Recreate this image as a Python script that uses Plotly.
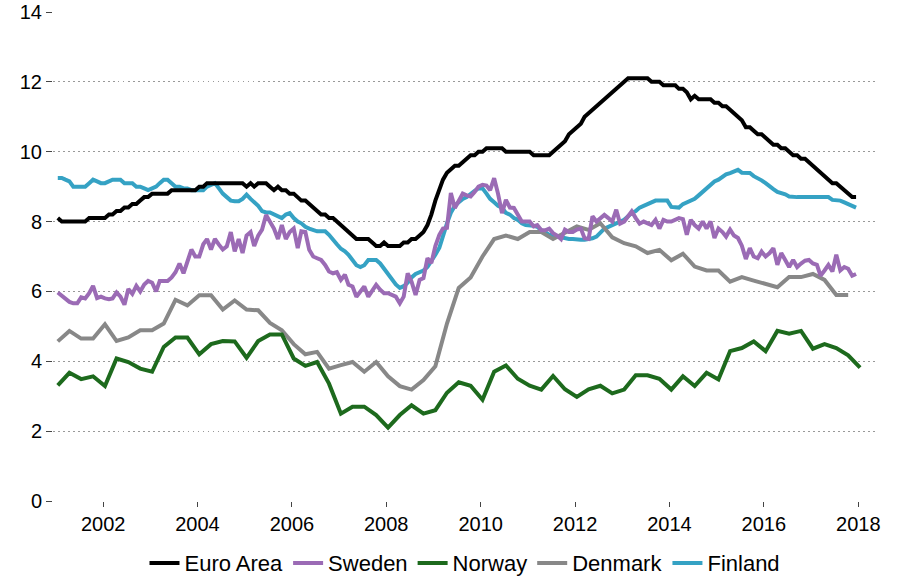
import pandas as pd
import plotly.graph_objects as go

# ---------------- data ----------------
months = pd.date_range("2001-01-01", periods=204, freq="MS") + pd.Timedelta(days=14)
quarters = pd.date_range("2001-01-01", periods=69, freq="QS") + pd.Timedelta(days=14)

euro_area = [
    8.1, 8.0, 8.0, 8.0, 8.0, 8.0, 8.0, 8.0, 8.1, 8.1, 8.1, 8.1,
    8.1, 8.2, 8.2, 8.3, 8.3, 8.4, 8.4, 8.5, 8.5, 8.6, 8.7, 8.7,
    8.8, 8.8, 8.8, 8.8, 8.8, 8.9, 8.9, 8.9, 8.9, 8.9, 8.9, 8.9,
    9.0, 9.0, 9.1, 9.1, 9.1, 9.1, 9.1, 9.1, 9.1, 9.1, 9.1, 9.1,
    9.0, 9.1, 9.0, 9.1, 9.1, 9.1, 9.0, 8.9, 9.0, 8.9, 8.9, 8.8,
    8.8, 8.7, 8.6, 8.6, 8.5, 8.4, 8.3, 8.2, 8.2, 8.1, 8.1, 8.0,
    7.9, 7.8, 7.7, 7.6, 7.5, 7.5, 7.5, 7.5, 7.4, 7.3, 7.3, 7.4,
    7.3, 7.3, 7.3, 7.3, 7.4, 7.4, 7.5, 7.5, 7.6, 7.7, 7.9, 8.2,
    8.6, 8.9, 9.2, 9.4, 9.5, 9.6, 9.6, 9.7, 9.8, 9.9, 9.9, 10.0,
    10.0, 10.1, 10.1, 10.1, 10.1, 10.1, 10.0, 10.0, 10.0, 10.0, 10.0, 10.0,
    10.0, 9.9, 9.9, 9.9, 9.9, 9.9, 10.0, 10.1, 10.2, 10.3, 10.5, 10.6,
    10.7, 10.8, 11.0, 11.1, 11.2, 11.3, 11.4, 11.5, 11.6, 11.7, 11.8, 11.9,
    12.0, 12.1, 12.1, 12.1, 12.1, 12.1, 12.1, 12.0, 12.0, 12.0, 11.9, 11.9,
    11.9, 11.9, 11.8, 11.8, 11.7, 11.5, 11.6, 11.5, 11.5, 11.5, 11.5, 11.4,
    11.4, 11.3, 11.3, 11.2, 11.1, 11.0, 10.9, 10.7, 10.7, 10.6, 10.5, 10.5,
    10.4, 10.3, 10.2, 10.2, 10.1, 10.1, 10.0, 9.9, 9.9, 9.8, 9.8, 9.7,
    9.6, 9.5, 9.4, 9.3, 9.2, 9.1, 9.1, 9.0, 8.9, 8.8, 8.7, 8.7,
]

sweden = [
    5.97, 5.88, 5.78, 5.7, 5.66, 5.66, 5.83, 5.8, 5.95, 6.16, 5.81, 5.85,
    5.8, 5.78, 5.8, 5.97, 5.85, 5.62, 6.07, 5.93, 6.16, 6.0, 6.2, 6.3,
    6.25, 6.0, 6.3, 6.3, 6.3, 6.4, 6.55, 6.8, 6.52, 6.85, 7.2, 7.0,
    7.0, 7.35, 7.5, 7.2, 7.5, 7.34, 7.2, 7.29, 7.7, 7.15, 7.5, 7.1,
    7.6, 7.7, 7.3, 7.6, 7.77, 8.19, 8.0, 7.8, 7.5, 7.9, 7.5, 7.7,
    7.8, 7.24, 7.72, 7.7, 7.19, 7.0, 6.95, 6.9, 6.76, 6.57, 6.52, 6.55,
    6.33, 6.48, 6.19, 6.14, 5.85, 6.0, 6.14, 5.85, 6.05, 6.19, 6.05, 5.95,
    5.95, 5.9, 5.85, 5.66, 5.85, 6.52, 6.28, 5.9, 6.33, 6.38, 6.95, 6.81,
    7.3, 7.62, 7.8, 7.82, 8.82, 8.39, 8.62, 8.8, 8.75, 8.72, 8.85, 9.0,
    9.05, 9.03, 8.9, 9.24, 8.8, 8.24, 8.62, 8.4, 8.39, 8.19, 8.0, 8.0,
    8.0, 7.86, 7.9, 7.75, 7.75, 7.8, 7.67, 7.6, 7.5, 7.77, 7.7, 7.7,
    7.77, 7.8, 7.52, 7.5, 8.15, 8.0, 8.1, 8.19, 8.1, 8.0, 8.34, 7.94,
    8.0, 8.15, 8.29, 8.1, 7.94, 8.0, 7.95, 7.9, 8.05, 7.8, 8.05, 8.0,
    8.0, 8.05, 8.1, 8.07, 7.62, 8.05, 7.9, 7.8, 8.0, 7.8, 8.0, 7.53,
    7.8, 7.7, 7.57, 7.77, 7.6, 7.53, 7.31, 6.93, 7.24, 7.0, 6.95, 7.14,
    7.0, 7.1, 7.24, 6.76, 7.1, 6.9, 6.7, 6.9, 6.7, 6.8, 6.88, 6.9,
    6.8, 6.76, 6.45, 6.6, 6.76, 6.57, 7.05, 6.6, 6.7, 6.65, 6.45, 6.5,
]

finland = [
    9.25, 9.25, 9.2, 9.15, 9.0, 9.0, 9.0, 9.0, 9.1, 9.2, 9.15, 9.1,
    9.1, 9.15, 9.2, 9.2, 9.2, 9.1, 9.1, 9.1, 9.0, 9.0, 8.95, 8.9,
    8.95, 9.0, 9.1, 9.2, 9.2, 9.1, 9.0, 9.0, 8.95, 8.95, 8.9, 8.9,
    8.9, 8.9, 9.0, 9.05, 9.1, 8.95, 8.8, 8.7, 8.6, 8.58, 8.58, 8.65,
    8.77, 8.65, 8.55, 8.45, 8.3, 8.26, 8.26, 8.2, 8.15, 8.1, 8.2, 8.24,
    8.1, 8.0, 7.95, 7.85, 7.8, 7.75, 7.72, 7.72, 7.72, 7.62, 7.5, 7.35,
    7.22, 7.15, 7.05, 6.9, 6.75, 6.7, 6.75, 6.9, 6.9, 6.9, 6.8, 6.65,
    6.5, 6.35, 6.2, 6.1, 6.15, 6.25, 6.4, 6.5, 6.55, 6.6, 6.7, 6.85,
    7.05, 7.25, 7.6, 7.95, 8.25, 8.45, 8.55, 8.65, 8.7, 8.8, 8.88, 8.95,
    8.95, 8.8, 8.65, 8.55, 8.45, 8.4, 8.25, 8.2, 8.1, 8.05, 7.95, 7.9,
    7.9, 7.88, 7.85, 7.75, 7.7, 7.62, 7.6, 7.57, 7.55, 7.52, 7.5, 7.5,
    7.48, 7.48, 7.48, 7.5, 7.52, 7.57, 7.7, 7.8, 7.85, 7.9, 7.95, 8.0,
    8.05, 8.15, 8.25, 8.3, 8.4, 8.45, 8.5, 8.55, 8.6, 8.6, 8.6, 8.6,
    8.42, 8.4, 8.4, 8.5, 8.55, 8.6, 8.65, 8.75, 8.85, 8.95, 9.05, 9.15,
    9.2, 9.28, 9.35, 9.39, 9.45, 9.48, 9.4, 9.39, 9.39, 9.3, 9.25, 9.18,
    9.1, 9.0, 8.93, 8.85, 8.82, 8.78, 8.72, 8.7, 8.7, 8.7, 8.7, 8.7,
    8.7, 8.7, 8.7, 8.7, 8.7, 8.62, 8.6, 8.6, 8.55, 8.5, 8.45, 8.4,
]

norway = [
    3.31, 3.67, 3.49, 3.57, 3.29, 4.08, 3.98, 3.79, 3.70, 4.41, 4.68, 4.68,
    4.2, 4.49, 4.58, 4.57, 4.1, 4.58, 4.77, 4.77, 4.08, 3.87, 3.98, 3.36,
    2.5, 2.7, 2.7, 2.46, 2.1, 2.46, 2.74, 2.5, 2.6, 3.1, 3.4, 3.3,
    2.9, 3.7, 3.88, 3.5, 3.3, 3.19, 3.58, 3.2, 2.98, 3.2, 3.3, 3.08,
    3.19, 3.6, 3.6, 3.5, 3.19, 3.57, 3.29, 3.67, 3.48, 4.29, 4.38, 4.57,
    4.29, 4.87, 4.79, 4.87, 4.36, 4.49, 4.38, 4.17, 3.82,
]

denmark = [
    4.57, 4.87, 4.65, 4.65, 5.06, 4.58, 4.68, 4.89, 4.89, 5.08, 5.76, 5.6,
    5.89, 5.89, 5.48, 5.74, 5.48, 5.46, 5.1, 4.89, 4.49, 4.2, 4.27, 3.79,
    3.89, 3.98, 3.7, 3.98, 3.57, 3.29, 3.19, 3.46, 3.86, 5.08, 6.1, 6.4,
    7.0, 7.5, 7.6, 7.5, 7.7, 7.7, 7.5, 7.67, 7.86, 7.76, 7.95, 7.55,
    7.38, 7.29, 7.1, 7.19, 6.89, 7.08, 6.71, 6.6, 6.6, 6.28, 6.41, 6.31,
    6.22, 6.12, 6.41, 6.41, 6.5, 6.33, 5.9, 5.9,
]

series_names = ["Euro Area", "Sweden", "Norway", "Denmark", "Finland"]
series_colors = ["#000000", "#9b6bb5", "#1d6a1d", "#888888", "#35a2c4"]

# ---------------- figure ----------------
data_map = {
    "Euro Area": (months, euro_area),
    "Sweden": (months, sweden),
    "Norway": (quarters, norway),
    "Denmark": (quarters[: len(denmark)], denmark),
    "Finland": (months, finland),
}

fig = go.Figure()
# add in reverse so Euro Area is drawn on top; legend reversed back to original order
for name, color in reversed(list(zip(series_names, series_colors))):
    xs, ys = data_map[name]
    fig.add_trace(
        go.Scatter(
            x=xs, y=ys, name=name, mode="lines",
            line=dict(color=color, width=4),
        )
    )

font_family = "Liberation Sans, Arial, Helvetica, sans-serif"

fig.update_layout(
    width=897,
    height=577,
    margin=dict(l=53, r=20, t=12, b=76, autoexpand=False),
    paper_bgcolor="white",
    plot_bgcolor="white",
    font=dict(family=font_family, color="#000000"),
    showlegend=True,
    legend=dict(
        orientation="h",
        x=0.5, xanchor="center",
        y=-0.127, yanchor="middle",
        traceorder="reversed",
        font=dict(size=22, family=font_family, color="#000000"),
        itemwidth=30,
        tracegroupgap=0,
    ),
    xaxis=dict(
        type="date",
        range=["2000-12-09", "2018-05-26"],
        tick0="2002-01-01",
        dtick="M24",
        tickformat="%Y",
        ticks="outside",
        ticklen=5,
        tickcolor="#444444",
        tickfont=dict(size=20, family=font_family, color="#000000"),
        showgrid=False,
        zeroline=False,
        showline=False,
    ),
    yaxis=dict(
        range=[0, 14],
        dtick=2,
        tick0=0,
        ticks="outside",
        ticklen=6,
        tickcolor="#444444",
        tickfont=dict(size=20, family=font_family, color="#000000"),
        showgrid=True,
        gridcolor="#999999",
        griddash="1.5px,3.5px",
        gridwidth=1,
        zeroline=False,
        showline=False,
    ),
)

# remove the browser's default 8px body margin so the figure fills the window exactly
fig.write_html(
    "out.html",
    config={"displayModeBar": False},
    post_script="document.body.style.margin='0';document.body.style.overflow='hidden';",
)
